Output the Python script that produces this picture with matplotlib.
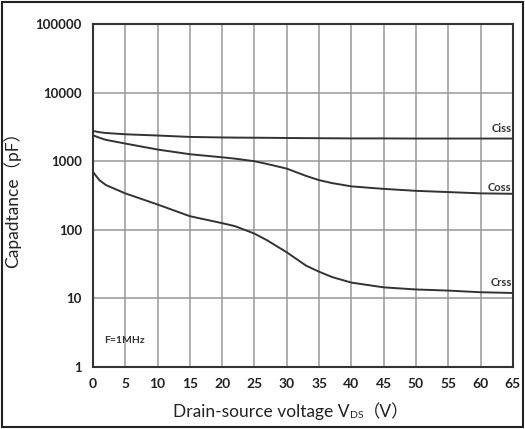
import numpy as np
import matplotlib
matplotlib.use('Agg')
import matplotlib.pyplot as plt
from matplotlib.patches import Rectangle

plt.rcParams['font.family'] = ['Lato', 'Noto Sans CJK SC', 'DejaVu Sans']

# datos
vds = [0, 1, 2, 5, 10, 15, 20, 22, 25, 27, 30, 33, 35, 37, 40, 45, 50, 55, 60, 65]
ciss = [2760, 2650, 2580, 2470, 2370, 2260, 2220, 2210, 2200, 2195, 2180, 2170, 2165, 2160, 2150, 2150, 2140, 2140, 2140, 2140]
coss = [2390, 2200, 2050, 1810, 1480, 1265, 1140, 1090, 1000, 910, 780, 610, 530, 480, 430, 395, 370, 355, 340, 335]
crss = [700, 530, 450, 340, 234, 158, 125, 113, 88, 70, 47, 30, 24.5, 20.5, 17, 14.5, 13.5, 13, 12.3, 12]

xticks = list(range(0, 70, 5))
yticks = [1, 10, 100, 1000, 10000, 100000]

fig = plt.figure(figsize=(5.25, 4.29), dpi=100)
ax = fig.add_axes([0.177, 0.1445, 0.8, 0.7995])

ax.plot(vds, ciss, color='#333333', lw=1.4)
ax.plot(vds, coss, color='#333333', lw=1.4)
ax.plot(vds, crss, color='#333333', lw=1.4)

ax.set_yscale('log')
ax.set_xlim(0, 65)
ax.set_ylim(1, 100000)
ax.set_xticks(xticks)
ax.set_yticks(yticks)
ax.set_yticklabels([str(v) for v in yticks], fontsize=9.5, fontweight='bold', color='#222222')
ax.set_xticklabels([str(v) for v in xticks], fontsize=10, fontweight='bold', color='#222222')
ax.minorticks_off()
ax.tick_params(length=0, pad=8)
ax.grid(True, color='#999999', lw=1.1)
for s in ax.spines.values():
    s.set_color('#333333')
    s.set_linewidth(1.5)

ax.text(64.8, 3000, 'Ciss', ha='right', va='center', fontsize=8, fontweight='bold', color='#333333')
ax.text(64.8, 420, 'Coss', ha='right', va='center', fontsize=8, fontweight='bold', color='#333333')
ax.text(64.8, 17, 'Crss', ha='right', va='center', fontsize=8, fontweight='bold', color='#333333')
ax.text(1.8, 2.4, 'F=1MHz', ha='left', va='center', fontsize=7.5, fontweight='bold', color='#333333')

ax.set_ylabel('Capadtance（pF）', fontsize=12.5, color='#222222', labelpad=10)

# etiqueta x en partes (subindice DS)
t1 = fig.text(0.665, 0.028, 'Drain-source voltage V', fontsize=12.5, color='#222222', ha='right', va='baseline')
t2 = ax.annotate('DS', xy=(1, 0), xycoords=t1, xytext=(0.5, 0), textcoords='offset points',
                 fontsize=7.5, color='#222222', ha='left', va='bottom')
t3 = ax.annotate('（V）', xy=(1, 0), xycoords=t2, xytext=(0, 0), textcoords='offset points',
                 fontsize=12.5, color='#222222', ha='left', va='bottom')

fig.patches.append(Rectangle((0.004, 0.004), 0.992, 0.992, transform=fig.transFigure,
                             fill=False, edgecolor='#222222', lw=1.5))

fig.savefig('out.png', dpi=100)
